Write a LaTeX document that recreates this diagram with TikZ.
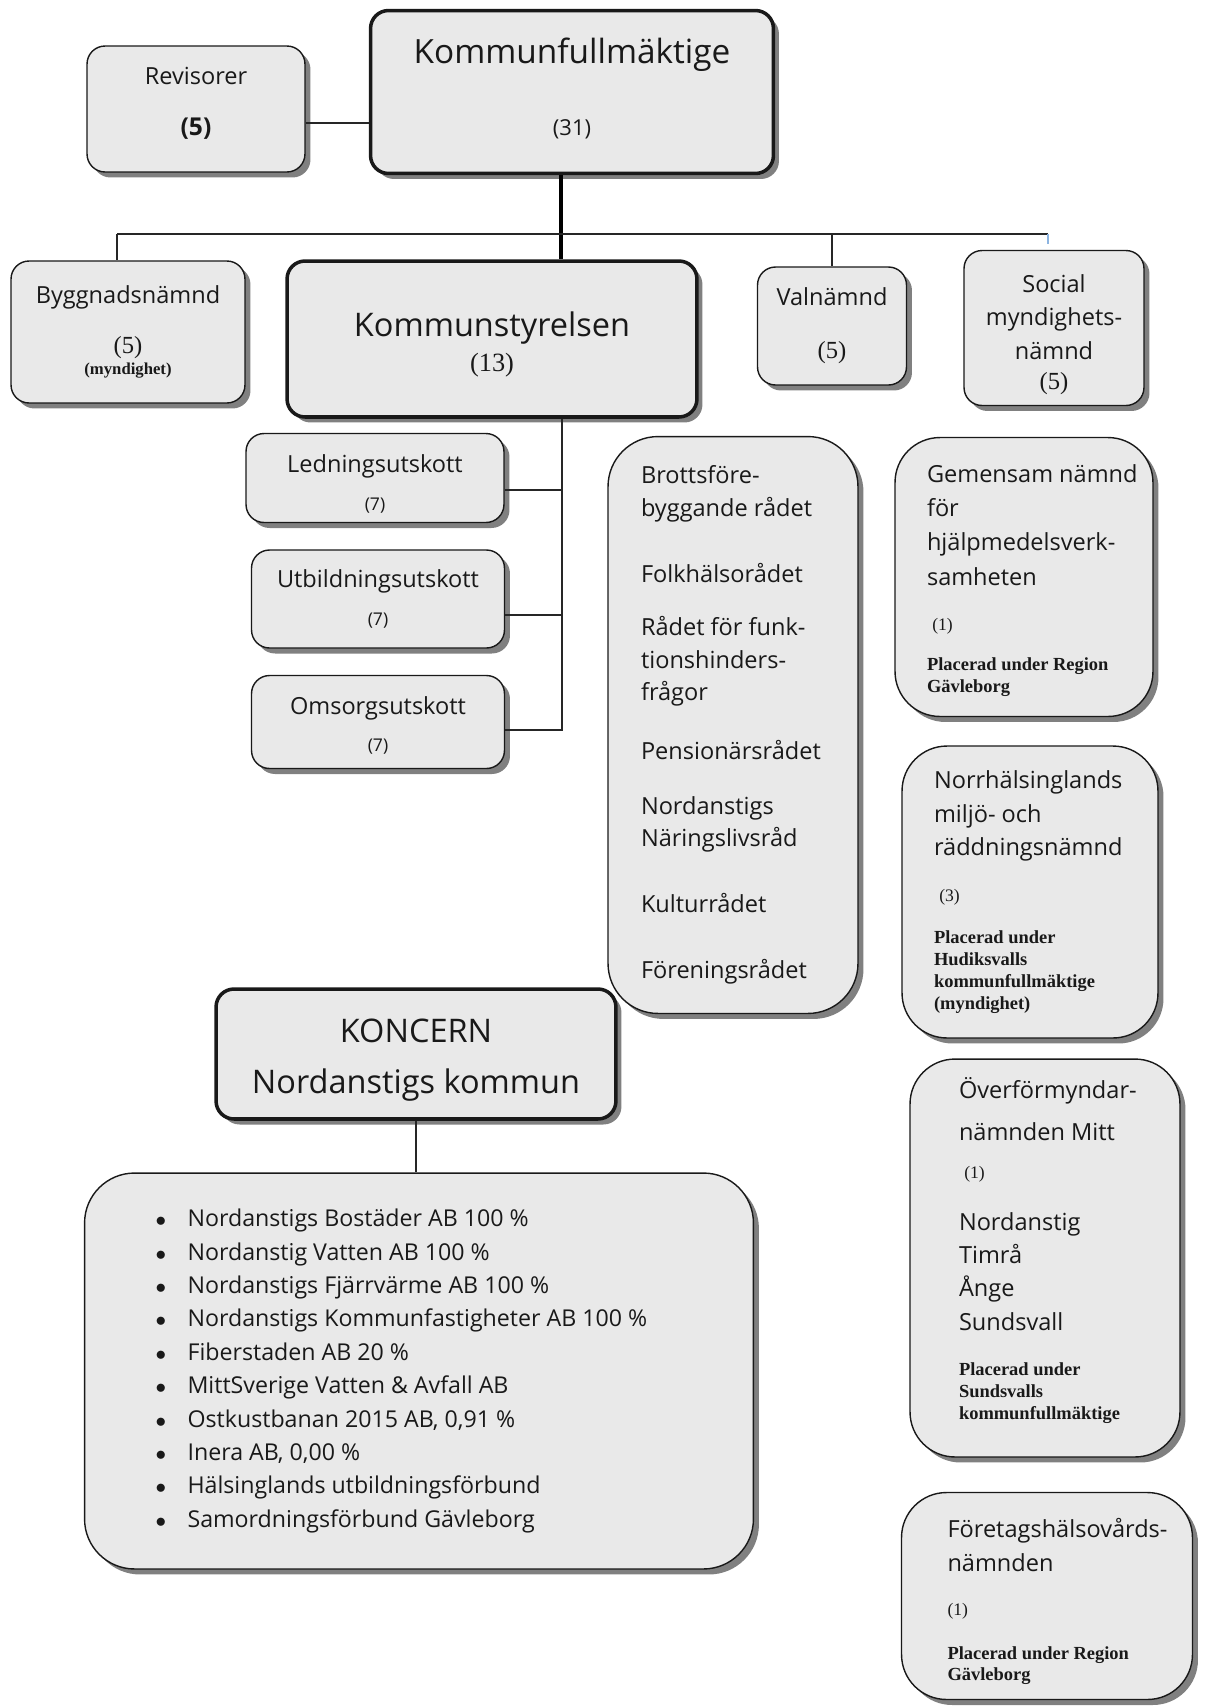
\documentclass[tikz,border=0pt]{standalone}
\usepackage{fontspec}
\setmainfont{Open Sans}
\newfontfamily\numfont{Liberation Serif}
\usetikzlibrary{shadows}

\definecolor{boxfill}{RGB}{233,233,233}
\definecolor{boxshade}{RGB}{128,128,128}
\definecolor{stubblue}{RGB}{140,180,225}

\newcommand{\normtxt}{\fontsize{13.4}{19}\selectfont}
\newcommand{\hugetxt}{\fontsize{18.5}{24}\selectfont}
\newcommand{\bignum}[1]{{\numfont\fontsize{14}{16}\selectfont #1}}
\newcommand{\smallnum}[1]{{\numfont\fontsize{10}{12}\selectfont #1}}
\newcommand{\place}[1]{{\numfont\bfseries\fontsize{10.5}{12.4}\selectfont #1}}
\newcommand{\listdot}{\makebox[0.64cm][l]{\fontsize{13}{13}\selectfont$\bullet$}}
\newcommand{\boxtext}[1]{\leftskip=#1\rightskip=0pt plus 1fil\spaceskip=0pt\xspaceskip=0pt\relax}
\newcommand{\topgap}[1]{\rule{0pt}{#1}}
\newcommand{\botgap}[1]{\rule[-#1]{0pt}{#1}}

\tikzset{
  box/.style={draw=black!90, fill=boxfill, line width=0.8pt, rounded corners=0.36cm,
    drop shadow={shadow xshift=0.11cm, shadow yshift=-0.11cm, fill=boxshade, opacity=1},
    align=center, inner sep=0pt, font=\normtxt, text=black!90},
  thickbox/.style={box, line width=2pt, font=\hugetxt},
  roundbox/.style={box, rounded corners=0.9cm, align=left, inner xsep=0pt,
    text width=#1, minimum width=#1},
  link/.style={line width=0.6pt, draw=black!85},
  mainlink/.style={line width=1.8pt, draw=black},
  stub/.style={line width=0.6pt, draw=stubblue},
}

\begin{document}
\begin{tikzpicture}[x=0.02cm, y=-0.02cm]
\path[fill=white, use as bounding box] (0,0) rectangle (1206,1708);

\node[box, minimum width=4.36cm, minimum height=2.52cm] (rev) at (196,109)
  {Revisorer\\[10pt]{\fontsize{14}{16}\selectfont\bfseries (5)}\botgap{9pt}};
\node[thickbox, minimum width=8.06cm, minimum height=3.26cm, font=\fontsize{19}{24}\selectfont] (kf) at (572,92)
  {Kommunfullmäktige\\[17.5pt]{\fontsize{12.5}{14}\selectfont (31)}\botgap{6pt}};

\node[box, minimum width=4.68cm, minimum height=2.84cm] (bygg) at (128,332)
  {Byggnadsnämnd\\[9.4pt]\bignum{(5)}\\[-7pt]{\numfont\bfseries\fontsize{9.5}{11}\selectfont (myndighet)}};
\node[thickbox, minimum width=8.2cm, minimum height=3.12cm] (ks) at (492,339)
  {\topgap{20.2pt}Kommunstyrelsen\\[-4pt]{\numfont\fontsize{15}{17}\selectfont (13)}};
\node[box, minimum width=2.98cm, minimum height=2.36cm] (val) at (832,326)
  {Valnämnd\\[11pt]\bignum{(5)}};
\node[box, minimum width=3.6cm, minimum height=3.1cm] (soc) at (1054,328)
  {\topgap{17.6pt}Social\\myndighets-\\nämnd\\[-2pt]\bignum{(5)}};

\node[box, minimum width=5.16cm, minimum height=1.78cm] (led) at (375,478)
  {\topgap{17pt}Ledningsutskott\\[2.5pt]{\fontsize{10}{12}\selectfont (7)}};
\node[box, minimum width=5.06cm, minimum height=1.96cm] (utb) at (378,599)
  {Utbildningsutskott\\[2.5pt]{\fontsize{10}{12}\selectfont (7)}};
\node[box, minimum width=5.06cm, minimum height=1.86cm] (oms) at (378,722)
  {\topgap{14pt}Omsorgsutskott\\[2.5pt]{\fontsize{10}{12}\selectfont (7)}};

\node[roundbox=5cm, minimum height=11.54cm, rounded corners=1cm, font=\fontsize{13.4}{18.5}\selectfont] (rad) at (733,725)
  {\boxtext{0.66cm}Brottsföre-\\byggande rådet\\[19pt]Folkhälsorådet\\[12pt]Rådet för funk-\\tionshinders-\\frågor\\[15pt]%
   Pensionärsrådet\\[12.5pt]Nordanstigs\\Näringslivsråd\\[19pt]Kulturrådet\\[19pt]Föreningsrådet\par};

\node[roundbox=5.16cm, minimum height=5.58cm] (gem) at (1024,577)
  {\boxtext{0.64cm}\topgap{14.4pt}Gemensam nämnd\\[0.5pt]för\\[0.5pt]hjälpmedelsverk-\\[0.5pt]samheten\\[7pt]\hspace*{3pt}\smallnum{(1)}\\[3.7pt]%
   \place{Placerad under Region}\\[-6.5pt]\place{Gävleborg}\par};
\node[roundbox=5.12cm, minimum height=5.84cm] (norr) at (1030,892)
  {\boxtext{0.64cm}Norrhälsinglands\\miljö- och\\räddningsnämnd\\[7pt]\hspace*{3pt}\smallnum{(3)}\\[5pt]%
   \place{Placerad under}\\[-6.5pt]\place{Hudiksvalls}\\[-6.5pt]\place{kommunfullmäktige}\\[-6.5pt]\place{(myndighet)}\par};
\node[roundbox=5.4cm, minimum height=7.96cm] (over) at (1045,1258)
  {\boxtext{0.98cm}Överförmyndar-\\[4.8pt]nämnden Mitt\\[2.5pt]\hspace*{3pt}\smallnum{(1)}\\[10.5pt]%
   Nordanstig\\Timrå\\Ånge\\Sundsvall\\[7pt]\place{Placerad under}\\[-7pt]\place{Sundsvalls}\\[-6pt]\place{kommunfullmäktige}\botgap{10.5pt}\par};
\node[roundbox=5.82cm, minimum height=4.14cm] (fore) at (1047,1596)
  {\boxtext{0.92cm}\topgap{17pt}Företagshälsovårds-\\[0.8pt]nämnden\\[6pt]\smallnum{(1)}\\[6pt]%
   \place{Placerad under Region}\\[-7pt]\place{Gävleborg}\par};

\node[thickbox, minimum width=8cm, minimum height=2.6cm] (konc) at (416,1054)
  {\topgap{20.6pt}KONCERN\\[5pt]Nordanstigs kommun};
\node[roundbox=13.38cm, minimum height=7.92cm, rounded corners=1cm, font=\fontsize{13.2}{19}\selectfont] (lista) at (419,1371)
  {\boxtext{1.42cm}%
   \listdot Nordanstigs Bostäder AB 100 \%\\
   \listdot Nordanstig Vatten AB 100 \%\\
   \listdot Nordanstigs Fjärrvärme AB 100 \%\\
   \listdot Nordanstigs Kommunfastigheter AB 100 \%\\
   \listdot Fiberstaden AB 20 \%\\
   \listdot MittSverige Vatten \& Avfall AB\\
   \listdot Ostkustbanan 2015 AB, 0,91 \%\\
   \listdot Inera AB, 0,00 \%\\
   \listdot Hälsinglands utbildningsförbund\\
   \listdot Samordningsförbund Gävleborg\par};

\coordinate (kfdown) at (561,0);
\coordinate (busL) at (117,234);
\coordinate (busR) at (1048,234);
\coordinate (ksbus) at (562,730);
\coordinate (kb1) at (562,490);
\coordinate (kb2) at (562,615);

\draw[link] ([yshift=-0.28cm]rev.east) -- ([yshift=-0.28cm]rev.east -| kf.west);
\draw[mainlink] (kf.south -| kfdown) -- (ks.north -| kfdown);
\draw[link] (busL) -- (busR);
\draw[link] (busL) -- (busL |- bygg.north);
\draw[link] (val.north |- busL) -- (val.north);
\draw[stub] (busR) -- ++(0,10);
\draw[link] (ks.south -| ksbus) -- (ksbus) -- (ksbus -| oms.east);
\draw[link] (kb1) -- (kb1 -| led.east);
\draw[link] (kb2) -- (kb2 -| utb.east);
\draw[link] (konc.south) -- (konc.south |- lista.north);
\end{tikzpicture}
\end{document}
